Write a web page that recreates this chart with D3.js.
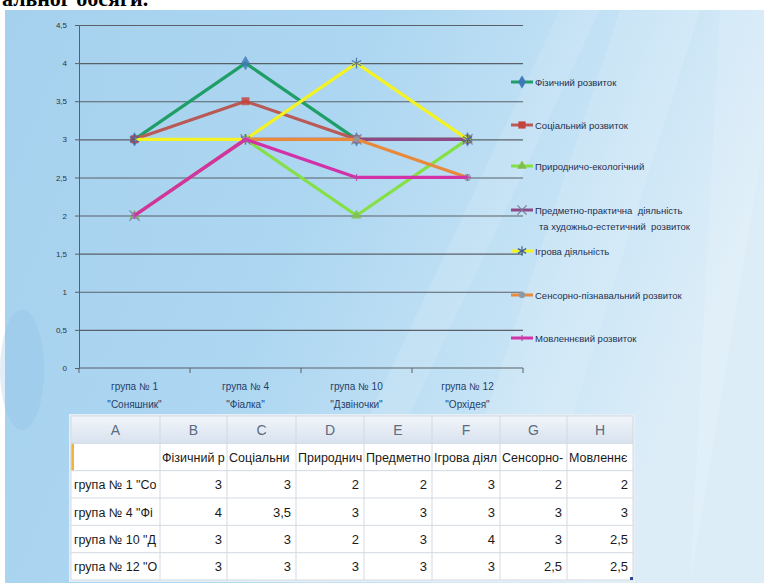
<!DOCTYPE html>
<html>
<head>
<meta charset="utf-8">
<script src="https://cdn.jsdelivr.net/npm/d3@7"></script>
<style>
  body { margin: 0; background: #fff; }
  svg { display: block; }
</style>
</head>
<body>
<svg id="chart" width="764" height="583"></svg>
<script>
// ---- data ----
var groupsLine1 = ["група № 1", "група № 4", "група № 10", "група № 12"];
var groupsLine2 = ["\"Соняшник\"", "\"Фіалка\"", "\"Дзвіночки\"", "\"Орхідея\""];
var seriesNames = [
  "Фізичний розвиток",
  "Соціальний розвиток",
  "Природничо-екологічний",
  "Предметно-практична  діяльність|та художньо-естетичний  розвиток",
  "Ігрова діяльність",
  "Сенсорно-пізнавальний розвиток",
  "Мовленнєвий розвиток"
];
var tableHeads = ["Фізичний розвиток", "Соціальний розвиток", "Природничо-екологічний",
  "Предметно-практична", "Ігрова діяльність", "Сенсорно-пізнавальний", "Мовленнєвий розвиток"];
var rowLabels = ["група № 1 \"Соняшник\"", "група № 4 \"Фіалка\"", "група № 10 \"Дзвіночки\"", "група № 12 \"Орхідея\""];
var fizychnyi   = [3, 4, 3, 3];
var sotsialnyi  = [3, 3.5, 3, 3];
var pryrodnycho = [2, 3, 2, 3];
var predmetno   = [2, 3, 3, 3];
var ihrova      = [3, 3, 4, 3];
var sensorno    = [2, 3, 3, 2.5];
var movlennievyi = [2, 3, 2.5, 2.5];
var yTicks = [0, 0.5, 1, 1.5, 2, 2.5, 3, 3.5, 4, 4.5];
var colLetters = ["A", "B", "C", "D", "E", "F", "G", "H"];

var allSeries = [fizychnyi, sotsialnyi, pryrodnycho, predmetno, ihrova, sensorno, movlennievyi];
var lineColors = ["#1f9e68", "#b95a56", "#84e044", "#8c4a86", "#f2f224", "#e88a3c", "#d232a8"];
var markColors = ["#3f78b8", "#c6423c", "#7fbf4a", "#7a7a9a", "#3b5f9a", "#8a9aa8", "#c040a8"];
var symbols = [d3.symbolDiamond, d3.symbolSquare, d3.symbolTriangle, d3.symbolX,
               d3.symbolAsterisk, d3.symbolCircle, d3.symbolPlus];
var strokeSym = [false, false, false, true, true, false, true];
var markSize = [55, 55, 40, 70, 80, 35, 18];

var svg = d3.select("#chart");
var defs = svg.append("defs");

// background like the slide
var bg = defs.append("linearGradient").attr("id", "bg")
  .attr("x1", "0").attr("y1", "0").attr("x2", "1").attr("y2", "0.3");
bg.append("stop").attr("offset", "0").attr("stop-color", "#a6d1ee");
bg.append("stop").attr("offset", "0.45").attr("stop-color", "#acd6f1");
bg.append("stop").attr("offset", "0.75").attr("stop-color", "#c4e2f5");
bg.append("stop").attr("offset", "1").attr("stop-color", "#dcedf8");
svg.append("rect").attr("x", 5).attr("y", 10).attr("width", 759).attr("height", 573).attr("fill", "url(#bg)");

// light streaks
var streaks = [[560, 10, 600, 10, 330, 583, 290, 583], [620, 10, 700, 10, 520, 583, 430, 583], [720, 10, 764, 10, 764, 140, 690, 583]];
svg.append("g").selectAll("polygon").data(streaks).enter().append("polygon")
  .attr("points", function(d) { return d[0]+","+d[1]+" "+d[2]+","+d[3]+" "+d[4]+","+d[5]+" "+d[6]+","+d[7]; })
  .attr("fill", "#ffffff").attr("opacity", 0.12);
svg.append("ellipse").attr("cx", 22).attr("cy", 370).attr("rx", 22).attr("ry", 60)
  .attr("fill", "#86bce0").attr("opacity", 0.25);

// top cut-off caption (only its lower part shows)
svg.append("text").attr("x", 2).attr("y", 6)
  .attr("font-family", "Liberation Serif, serif").attr("font-weight", "bold").attr("font-size", 22)
  .attr("fill", "#000").text("альног обсяги.");

// ---- chart ----
var plotL = 79, plotR = 523, plotT = 25, plotB = 368;
var x = d3.scaleBand().domain(d3.range(groupsLine1.length)).range([plotL, plotR]).padding(0);
var y = d3.scaleLinear().domain([0, 4.5]).range([plotB, plotT]);
var fmt = function(v) { return String(v).replace(".", ","); };

svg.append("g").attr("transform", "translate(" + plotL + ",0)")
  .call(d3.axisLeft(y).tickValues(yTicks.slice(1)).tickSize(-(plotR - plotL)).tickFormat(""))
  .call(function(g) {
    g.select(".domain").remove();
    g.selectAll("line").attr("stroke", "#5a6068").attr("stroke-width", 1.1);
  });

svg.append("g").attr("transform", "translate(" + plotL + ",0)")
  .call(d3.axisLeft(y).tickValues(yTicks).tickSize(4).tickPadding(8).tickFormat(fmt))
  .call(function(g) {
    g.select(".domain").attr("stroke", "#5a6068");
    g.selectAll("line").attr("stroke", "#5a6068");
    g.selectAll("text").attr("fill", "#2a3440").attr("font-size", 8)
      .attr("font-family", "Liberation Sans, Arial, sans-serif");
  });

var xAxis = svg.append("g").attr("transform", "translate(0," + plotB + ")");
xAxis.append("line").attr("x1", plotL).attr("x2", plotR).attr("stroke", "#5a6068").attr("stroke-width", 1.1);
xAxis.selectAll(".tk").data(d3.range(groupsLine1.length + 1)).enter().append("line")
  .attr("x1", function(i) { return plotL + i * x.bandwidth(); })
  .attr("x2", function(i) { return plotL + i * x.bandwidth(); })
  .attr("y1", 0).attr("y2", 5).attr("stroke", "#5a6068");
var xl = xAxis.selectAll(".lbl").data(d3.range(groupsLine1.length)).enter().append("text")
  .attr("x", function(i) { return x(i) + x.bandwidth() / 2; })
  .attr("text-anchor", "middle").attr("font-size", 10).attr("fill", "#24406a")
  .attr("font-family", "Liberation Sans, Arial, sans-serif");
xl.append("tspan").attr("x", function(i) { return x(i) + x.bandwidth() / 2; }).attr("y", 22)
  .text(function(i) { return groupsLine1[i]; });
xl.append("tspan").attr("x", function(i) { return x(i) + x.bandwidth() / 2; }).attr("y", 40)
  .text(function(i) { return groupsLine2[i]; });

var line = d3.line().x(function(d, i) { return x(i) + x.bandwidth() / 2; }).y(function(d) { return y(d); });

allSeries.forEach(function(vals, s) {
  svg.append("path").datum(vals).attr("d", line)
    .attr("fill", "none").attr("stroke", lineColors[s]).attr("stroke-width", 3.2)
    .attr("stroke-linejoin", "round");
  svg.append("g").selectAll("path").data(vals).enter().append("path")
    .attr("transform", function(d, i) { return "translate(" + (x(i) + x.bandwidth() / 2) + "," + y(d) + ")"; })
    .attr("d", d3.symbol().type(symbols[s]).size(markSize[s]))
    .attr("fill", strokeSym[s] ? "none" : markColors[s])
    .attr("stroke", markColors[s]).attr("stroke-width", strokeSym[s] ? 1.3 : 0.5)
    .attr("opacity", 0.8);
});

// legend
var legY = [82, 125, 166, 210, 251, 295, 338];
var leg = svg.append("g").selectAll("g").data(seriesNames).enter().append("g")
  .attr("transform", function(d, i) { return "translate(511," + legY[i] + ")"; });
leg.append("line").attr("x1", 0).attr("x2", 22)
  .attr("stroke", function(d, i) { return lineColors[i]; }).attr("stroke-width", 3);
leg.append("path").attr("transform", "translate(11,0)")
  .attr("d", function(d, i) { return d3.symbol().type(symbols[i]).size(markSize[i] * 0.8)(); })
  .attr("fill", function(d, i) { return strokeSym[i] ? "none" : markColors[i]; })
  .attr("stroke", function(d, i) { return markColors[i]; })
  .attr("stroke-width", function(d, i) { return strokeSym[i] ? 1.2 : 0.5; });
leg.each(function(d) {
  var parts = d.split("|");
  var t = d3.select(this).append("text").attr("x", 24).attr("y", 3.5)
    .attr("font-size", 9.5).attr("fill", "#1e3050")
    .attr("font-family", "Liberation Sans, Arial, sans-serif").attr("xml:space", "preserve");
  parts.forEach(function(p, k) {
    t.append("tspan").attr("x", k ? 28 : 24).attr("dy", k ? 16 : 0).text(p);
  });
});

// ---- Excel table ----
var colW = [89, 67, 69, 68, 68, 68, 67, 66];
var colX = [71];
colW.forEach(function(w, i) { colX.push(colX[i] + w); });
var tRows = d3.scaleBand().domain(d3.range(6)).range([416, 580]).padding(0);
var tableRight = colX[colX.length - 1];

var hg = defs.append("linearGradient").attr("id", "hg").attr("x1", 0).attr("y1", 0).attr("x2", 0).attr("y2", 1);
hg.append("stop").attr("offset", 0).attr("stop-color", "#f2f5fa");
hg.append("stop").attr("offset", 1).attr("stop-color", "#d8e2ef");

var table = svg.append("g").attr("font-family", "Liberation Sans, Arial, sans-serif");
table.append("rect").attr("x", 69).attr("y", 414).attr("width", tableRight - 67).attr("height", 168)
  .attr("fill", "#e6eef6");
table.append("rect").attr("x", 71).attr("y", tRows(0)).attr("width", tableRight - 71).attr("height", tRows.bandwidth())
  .attr("fill", "url(#hg)");
table.append("rect").attr("x", 71).attr("y", tRows(1)).attr("width", tableRight - 71).attr("height", 580 - tRows(1))
  .attr("fill", "#ffffff");
table.append("rect").attr("x", 71).attr("y", tRows(1)).attr("width", 3).attr("height", tRows.bandwidth())
  .attr("fill", "#f3b33a");

// grid lines
table.selectAll(".vl").data(colX).enter().append("line")
  .attr("x1", function(d) { return d; }).attr("x2", function(d) { return d; })
  .attr("y1", tRows(0)).attr("y2", 580).attr("stroke", "#d3d9e2");
table.selectAll(".hl").data(d3.range(7)).enter().append("line")
  .attr("x1", 71).attr("x2", tableRight)
  .attr("y1", function(i) { return i < 6 ? tRows(i) : 580; })
  .attr("y2", function(i) { return i < 6 ? tRows(i) : 580; })
  .attr("stroke", "#d3d9e2");

// column letters
table.selectAll(".cl").data(colLetters).enter().append("text")
  .attr("x", function(d, i) { return colX[i] + colW[i] / 2; })
  .attr("y", tRows(0) + tRows.bandwidth() / 2 + 5)
  .attr("text-anchor", "middle").attr("font-size", 14).attr("fill", "#5b6b80")
  .text(function(d) { return d; });

// Excel cuts text that does not fit the cell
function fitText(sel, maxW) {
  var node = sel.node(), s = sel.text();
  while (s.length > 1 && node.getComputedTextLength() > maxW) {
    s = s.slice(0, -1);
    sel.text(s);
  }
}

tableHeads.forEach(function(h, i) {
  var t = table.append("text").attr("x", colX[i + 1] + 2).attr("y", tRows(1) + tRows.bandwidth() / 2 + 5)
    .attr("font-size", 12.5).attr("fill", "#1a1a1a").text(h);
  fitText(t, colW[i + 1] - 3);
});

rowLabels.forEach(function(r, j) {
  var ry = tRows(j + 2);
  var t = table.append("text").attr("x", colX[0] + 3).attr("y", ry + tRows.bandwidth() / 2 + 5)
    .attr("font-size", 12.5).attr("fill", "#1a1a1a").text(r);
  fitText(t, colW[0] - 4);
  allSeries.forEach(function(vals, s) {
    table.append("text").attr("x", colX[s + 2] - 5).attr("y", ry + tRows.bandwidth() / 2 + 5)
      .attr("text-anchor", "end").attr("font-size", 13).attr("fill", "#1a1a1a")
      .text(fmt(vals[j]));
  });
});
table.append("rect").attr("x", tableRight - 3).attr("y", 577).attr("width", 3).attr("height", 3).attr("fill", "#2a4a8a");
</script>
</body>
</html>
